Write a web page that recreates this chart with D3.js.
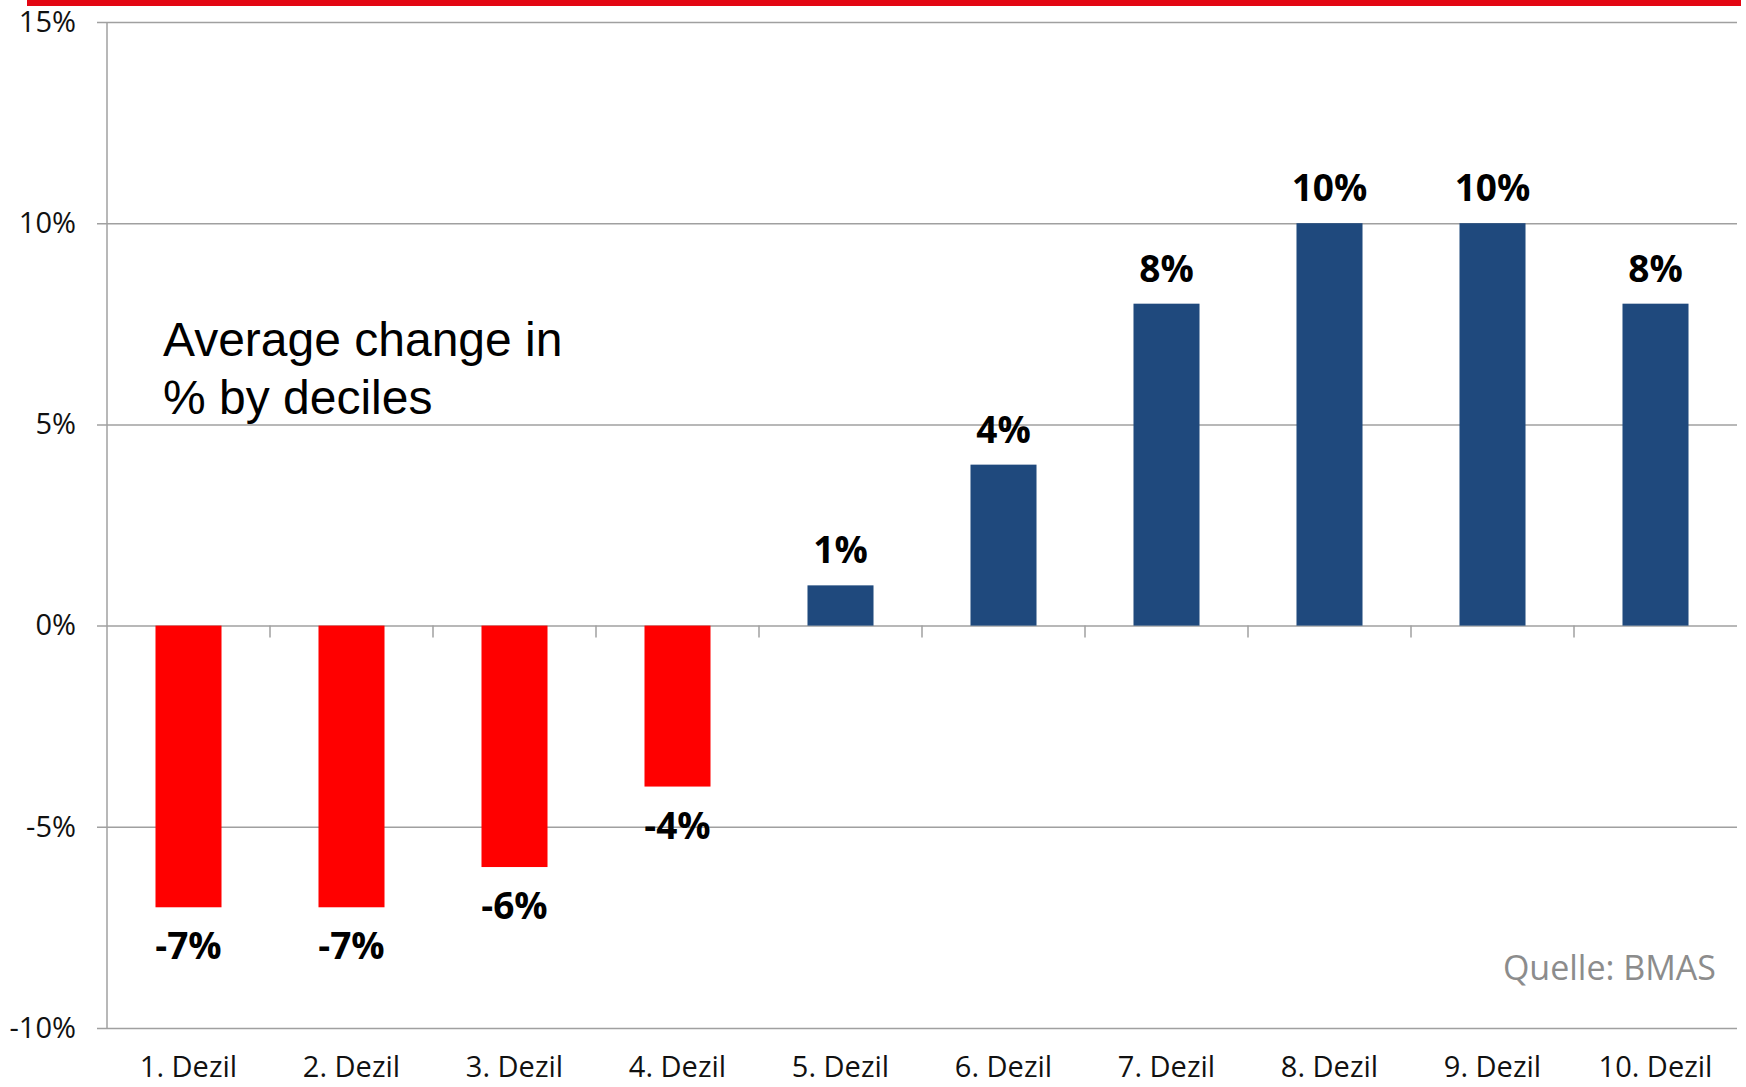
<!DOCTYPE html>
<html><head><meta charset="utf-8">
<script src="https://cdn.jsdelivr.net/npm/d3@7"></script>
<style>html,body{margin:0;padding:0;background:#fff;}</style>
</head><body>
<svg id="c" width="1746" height="1087"></svg>
<script>
const categories = ["1. Dezil","2. Dezil","3. Dezil","4. Dezil","5. Dezil","6. Dezil","7. Dezil","8. Dezil","9. Dezil","10. Dezil"];
const values = [-7,-7,-6,-4,1,4,8,10,10,8];
const yTicks = [-10,-5,0,5,10,15];
const titleLines = ["Average change in","% by deciles"];
const sourceText = "Quelle: BMAS";

const svg = d3.select("#c");
const plotLeft = 107, plotRight = 1737, plotTop = 22, plotBottom = 1028;
const x = d3.scaleBand().domain(categories).range([plotLeft, plotRight]).paddingInner(0.595).paddingOuter(0.2975);
const y = d3.scaleLinear().domain([-10, 15]).range([plotBottom, plotTop]);
const font = "'Open Sans', sans-serif";

// top red band
svg.append("rect").attr("x", 27).attr("y", 0).attr("width", 1714).attr("height", 6).attr("fill", "#E30613");

// gridlines + y axis
const yAxis = d3.axisLeft(y).tickValues(yTicks).tickFormat(d => d + "%").tickSize(-(plotRight - plotLeft)).tickPadding(31);
const gy = svg.append("g").attr("transform", `translate(${plotLeft},0)`).call(yAxis);
gy.select(".domain").remove();
gy.selectAll(".tick line").attr("stroke", "#a0a0a0").attr("stroke-width", 1.5).attr("x1", -10);
gy.selectAll(".tick text").attr("font-family", font).attr("font-size", 29).attr("fill", "#111");
svg.append("line").attr("x1", plotLeft).attr("x2", plotLeft).attr("y1", plotTop).attr("y2", plotBottom).attr("stroke", "#a0a0a0").attr("stroke-width", 1.5);

// category tick marks at the zero line
const step = x.step();
svg.append("g").selectAll("line").data(categories.slice(1)).join("line")
  .attr("x1", d => x(d) - (step - x.bandwidth()) / 2)
  .attr("x2", d => x(d) - (step - x.bandwidth()) / 2)
  .attr("y1", y(0)).attr("y2", y(0) + 12)
  .attr("stroke", "#a0a0a0").attr("stroke-width", 1.5);

// bars
svg.append("g").selectAll("rect").data(values).join("rect")
  .attr("x", (d, i) => x(categories[i]))
  .attr("width", x.bandwidth())
  .attr("y", d => y(Math.max(0, d)))
  .attr("height", d => Math.abs(y(d) - y(0)))
  .attr("fill", d => d < 0 ? "#FF0000" : "#1F497D");

// value labels
svg.append("g").selectAll("text").data(values).join("text")
  .attr("x", (d, i) => x(categories[i]) + x.bandwidth() / 2)
  .attr("y", d => d < 0 ? y(d) + 52 : y(d) - 22)
  .attr("text-anchor", "middle")
  .attr("font-family", font).attr("font-weight", "bold").attr("font-size", 37).attr("fill", "#000")
  .text(d => d + "%");

// category labels
svg.append("g").selectAll("text").data(categories).join("text")
  .attr("x", d => x(d) + x.bandwidth() / 2)
  .attr("y", 1077)
  .attr("text-anchor", "middle")
  .attr("font-family", font).attr("font-size", 29).attr("fill", "#111")
  .text(d => d);

// annotation
svg.append("g").selectAll("text").data(titleLines).join("text")
  .attr("x", 163).attr("y", (d, i) => 356 + i * 58)
  .attr("font-family", "'Liberation Sans', Arial, sans-serif").attr("font-size", 48).attr("fill", "#000")
  .text(d => d);

// source
svg.append("text").attr("x", 1716).attr("y", 980).attr("text-anchor", "end")
  .attr("font-family", font).attr("font-size", 34).attr("fill", "#8c8c8c").text(sourceText);
</script>
</body></html>
